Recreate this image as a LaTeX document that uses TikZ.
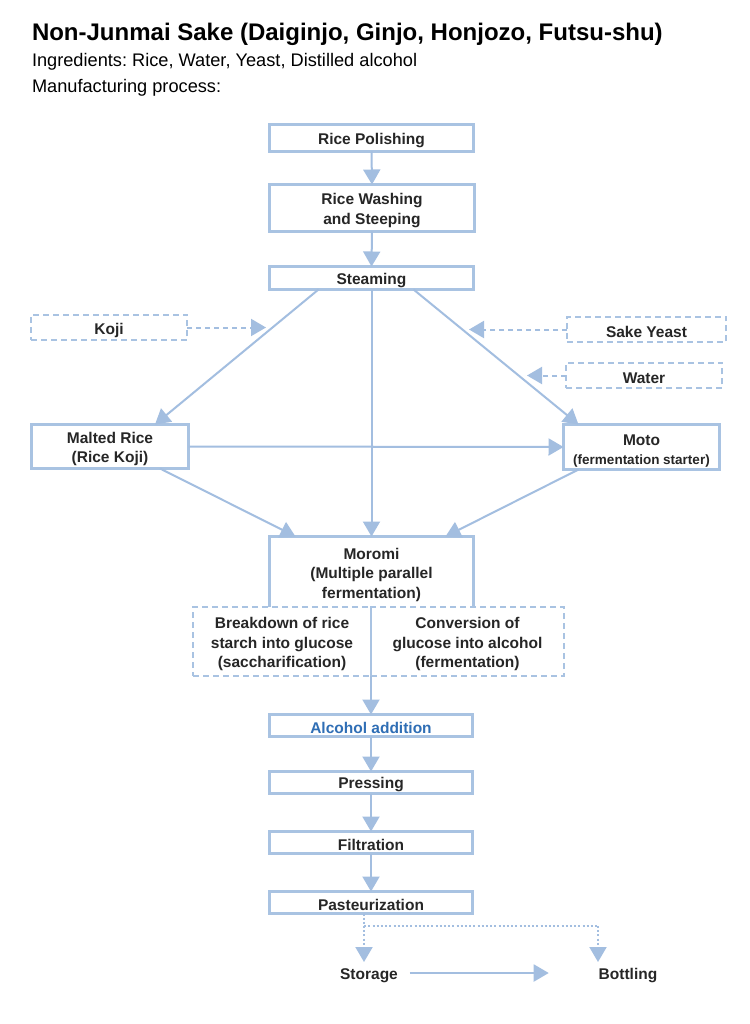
\documentclass[tikz,border=0pt]{standalone}
\usepackage{fontspec}
\setmainfont{Liberation Sans}
\usetikzlibrary{arrows.meta}
\definecolor{boxc}{HTML}{A9C3E2}
\definecolor{arrc}{HTML}{A3BEE0}
\definecolor{txt}{HTML}{262626}
\definecolor{bluetxt}{HTML}{2F6EB5}
\frenchspacing
\newcommand\fstrut[1]{\rule{0pt}{#1}}
\begin{document}
\begin{tikzpicture}[x=1pt,y=-1pt,
  every node/.style={inner sep=0pt,outer sep=0pt,text=txt,font=\bfseries\fontsize{15.5}{19.5}\selectfont,align=center},
  procbox/.style={draw=boxc,line width=3pt,minimum width=#1},
  procbox/.default=203pt,
  inbox/.style={draw=boxc,line width=1.6pt,dash pattern=on 6pt off 4pt,minimum width=156pt,minimum height=25.5pt},
  subbox/.style={draw=boxc,line width=1.6pt,dash pattern=on 6pt off 4pt},
  flow/.style={draw=arrc,line width=2pt,-{Triangle[width=17pt,length=15pt]},arrc},
  dflow/.style={flow,dash pattern=on 5pt off 4pt},
  tflow/.style={flow,dash pattern=on 2pt off 2.2pt},
  tline/.style={draw=arrc,line width=2pt,dash pattern=on 2pt off 2.2pt}
]
\useasboundingbox[fill=white] (0,0) rectangle (749,1024);

% header
\node[anchor=base west,text=black,font=\bfseries\fontsize{24}{28}\selectfont] (title) at (32,41) {Non-Junmai Sake (Daiginjo, Ginjo, Honjozo, Futsu-shu)};
\node[anchor=base west,text=black,font=\fontsize{18.2}{22}\selectfont] (ingr) at (32,67) {Ingredients: Rice, Water, Yeast, Distilled alcohol};
\node[anchor=base west,text=black,font=\fontsize{18.2}{22}\selectfont] (manu) at (32,93) {Manufacturing process:};

% main boxes
\node[procbox=204pt,minimum height=27pt] (polish) at (371.5,138) {\fstrut{17pt}Rice Polishing};
\node[procbox=205pt,minimum height=47pt] (wash) at (372,208) {\fstrut{16pt}Rice Washing\\and Steeping};
\node[procbox=204pt,minimum height=23pt] (steam) at (371.5,278) {\fstrut{17pt}Steaming};

\node[inbox] (koji) at (109,327.5) {\fstrut{16.5pt}Koji};
\node[inbox,minimum width=159pt] (yeast) at (646.5,329.5) {\fstrut{16pt}Sake Yeast};
\node[inbox] (water) at (644,375.5) {\fstrut{16.5pt}Water};

\node[procbox=157pt,minimum height=44pt] (malted) at (110,446.5) {\fstrut{16.5pt}Malted Rice\\(Rice Koji)};
\node[procbox=156pt,minimum height=45pt] (moto) at (641.5,447) {\fstrut{19pt}Moto\\[-1pt]{\bfseries\fontsize{13.5}{16}\selectfont(fermentation starter)}};

\node[minimum width=204pt,minimum height=70.5pt] (moromi) at (371.5,571.75) {\fstrut{17.5pt}Moromi\\(Multiple parallel\\fermentation)};
\draw[boxc,line width=3pt] (moromi.south west) -- (moromi.north west) -- (moromi.north east) -- (moromi.south east);

\node[subbox,minimum width=178pt,minimum height=69pt] (sacch) at (282,641.5) {\fstrut{16.5pt}Breakdown of rice\\starch into glucose\\(saccharification)};
\node[subbox,minimum width=193pt,minimum height=69pt] (ferm) at (467.5,641.5) {\fstrut{16.5pt}Conversion of\\glucose into alcohol\\(fermentation)};

\node[procbox,minimum height=22pt,text=bluetxt] (alcohol) at (371,725.5) {\fstrut{15.5pt}Alcohol addition};
\node[procbox,minimum height=22pt] (press) at (371,782.5) {\fstrut{15.5pt}Pressing};
\node[procbox,minimum height=22pt] (filt) at (371,842.5) {\fstrut{15.5pt}Filtration};
\node[procbox,minimum height=22pt] (past) at (371,902.5) {\fstrut{15.5pt}Pasteurization};

\node (storage) at (369,973) {\fstrut{17pt}Storage};
\node (bottling) at (628,973) {\fstrut{17pt}Bottling};

% coordinates for free ends
\coordinate (kojitip) at (266,327.5);
\coordinate (yeasttip) at (469,329.5);
\coordinate (watertip) at (527,375.5);
\coordinate (split) at (364,926);
\coordinate (splitr) at (598,926);
\coordinate (storetip) at (364,962);
\coordinate (bottletip) at (598,962);

% connectors
\draw[flow] (polish.south) -- (wash.north);
\draw[flow] (wash.south) -- (steam.north);
\draw[flow] ([xshift=-53pt]steam.south) -- ([xshift=45pt]malted.north);
\draw[flow] (steam.south) -- (moromi.north);
\draw[flow] ([xshift=42pt]steam.south) -- ([xshift=-63pt]moto.north);
\draw[dflow] (koji.east) -- (kojitip);
\draw[dflow] (yeast.west) -- (yeasttip);
\draw[dflow] (water.west) -- (watertip);
\draw[flow] (malted.east) -- (moto.west);
\draw[flow] ([xshift=50pt]malted.south) -- ([xshift=-76pt]moromi.north);
\draw[flow] ([xshift=-63pt]moto.south) -- ([xshift=74pt]moromi.north);
\draw[flow] (sacch.south east) -- (alcohol.north);
\draw[flow] (alcohol.south) -- (press.north);
\draw[flow] (press.south) -- (filt.north);
\draw[flow] (filt.south) -- (past.north);
\draw[tline] (past.south -| split) -- (split) -- (splitr);
\draw[tflow] (split) -- (storetip);
\draw[tflow] (splitr) -- (bottletip);
\draw[flow,shorten <=12pt,shorten >=50pt] (storage.east) -- (bottling.west);
\end{tikzpicture}
\end{document}
